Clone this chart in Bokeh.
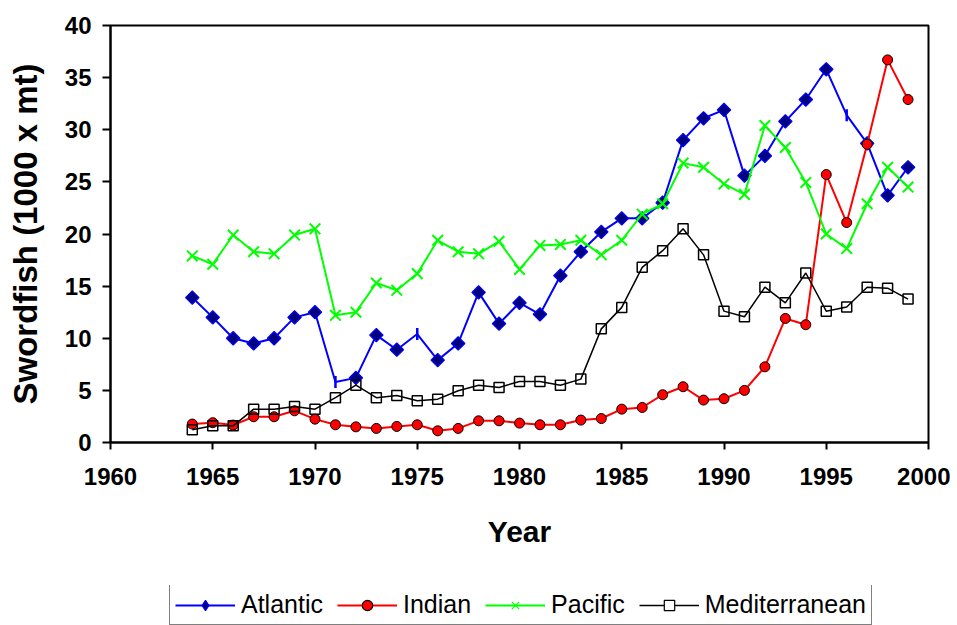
import math
from bokeh.plotting import figure
from bokeh.layouts import column
from bokeh.models import Legend, LegendItem, FixedTicker, Range1d
from bokeh.embed import file_html
from bokeh.resources import INLINE

# ---- data ----
years = list(range(1964, 2000))
atlantic = [13.9, 12.0, 10.0, 9.5, 10.0, 12.0, 12.5, 5.8, 6.2, 10.3, 8.9, 10.4,
            7.9, 9.5, 14.4, 11.4, 13.4, 12.3, 16.0, 18.3, 20.2, 21.5, 21.5, 23.0,
            29.0, 31.1, 31.9, 25.6, 27.5, 30.8, 32.9, 35.8, 31.4, 28.7, 23.7, 26.4]
indian = [1.77, 1.9, 1.67, 2.47, 2.47, 3.04, 2.24, 1.7, 1.5, 1.35, 1.54, 1.7,
          1.12, 1.35, 2.08, 2.08, 1.86, 1.7, 1.7, 2.15, 2.3, 3.2, 3.36, 4.58,
          5.35, 4.07, 4.2, 5.0, 7.26, 11.9, 11.3, 25.7, 21.1, 28.6, 36.7, 32.9]
pacific = [17.9, 17.1, 19.9, 18.3, 18.1, 19.9, 20.5, 12.2, 12.5, 15.3, 14.6, 16.2,
           19.4, 18.3, 18.1, 19.3, 16.6, 18.9, 19.0, 19.4, 18.0, 19.4, 21.9, 22.9,
           26.8, 26.4, 24.8, 23.8, 30.4, 28.3, 24.95, 20.0, 18.6, 22.9, 26.4, 24.5]
mediterranean = [1.22, 1.6, 1.6, 3.2, 3.2, 3.45, 3.2, 4.3, 5.5, 4.3, 4.5, 4.0,
                 4.16, 4.96, 5.5, 5.28, 5.86, 5.86, 5.5, 6.08, 10.9, 12.96, 16.8, 18.4,
                 20.5, 18.0, 12.6, 12.06, 14.9, 13.4, 16.26, 12.6, 13.0, 14.9, 14.8, 13.76]
series_names = ["Atlantic", "Indian", "Pacific", "Mediterranean"]
x_ticks = [1960, 1965, 1970, 1975, 1980, 1985, 1990, 1995, 2000]
y_ticks = [0, 5, 10, 15, 20, 25, 30, 35, 40]
# Atlantic points drawn with a short vertical tick instead of a diamond in the original
atlantic_tick_years = [1971, 1975, 1996]

FONT = "Liberation Sans"

p = figure(width=950, height=585, output_backend="svg", toolbar_location=None,
           x_range=Range1d(1960, 2000), y_range=Range1d(0, 40),
           min_border_left=110, min_border_right=22, min_border_top=25,
           min_border_bottom=143)
p.grid.visible = False
p.outline_line_color = "black"
p.outline_line_width = 2
p.background_fill_color = "white"
p.border_fill_color = "white"

for ax, ticks in ((p.xaxis, x_ticks), (p.yaxis, y_ticks)):
    ax.ticker = FixedTicker(ticks=ticks)
    ax.minor_tick_line_color = None
    ax.axis_line_color = "black"
    ax.axis_line_width = 2
    ax.major_tick_line_color = "black"
    ax.major_tick_line_width = 2
    ax.major_tick_in = 0
    ax.major_label_text_font = FONT
    ax.major_label_text_font_style = "bold"
    ax.major_label_text_font_size = "24px"
    ax.major_label_text_color = "black"
    ax.axis_label_text_font = FONT
    ax.axis_label_text_font_style = "bold"
    ax.axis_label_text_color = "black"

p.xaxis.major_tick_out = 7
p.xaxis.major_label_standoff = 18
p.xaxis.axis_label = "Year"
p.xaxis.axis_label_text_font_size = "30px"
p.xaxis.axis_label_standoff = 27

p.yaxis.major_tick_out = 8
p.yaxis.major_label_standoff = 11
p.yaxis.axis_label = "Swordfish (1000 x mt)"
p.yaxis.axis_label_text_font_size = "33px"
p.yaxis.axis_label_standoff = 18

# Atlantic
p.line(years, atlantic, line_color="#0000FF", line_width=2)
ax_d = [y for y in years if y not in atlantic_tick_years]
ay_d = [v for y, v in zip(years, atlantic) if y not in atlantic_tick_years]
ax_t = [y for y in years if y in atlantic_tick_years]
ay_t = [v for y, v in zip(years, atlantic) if y in atlantic_tick_years]
p.scatter(ax_d, ay_d, marker="square", angle=math.pi / 4, size=9.5,
          fill_color="#000080", line_color="#0000FF", line_width=1.2)
p.scatter(ax_t, ay_t, marker="dash", angle=math.pi / 2, size=12,
          line_color="#0000FF", line_width=2.5)

# Indian
p.line(years, indian, line_color="#FF0000", line_width=2)
p.scatter(years, indian, marker="circle", size=10,
          fill_color="#FF0000", line_color="black", line_width=1)

# Pacific
p.line(years, pacific, line_color="#00FF00", line_width=2)
p.scatter(years, pacific, marker="x", size=15, line_color="#00FF00", line_width=2)

# Mediterranean
p.line(years, mediterranean, line_color="black", line_width=1.5)
p.scatter(years, mediterranean, marker="square", size=10,
          fill_alpha=0, line_color="black", line_width=1.5)

# ---- legend strip below the chart (same series, outside its view range) ----
q = figure(width=950, height=40, output_backend="svg", toolbar_location=None,
           x_range=Range1d(0, 1), y_range=Range1d(0, 1),
           x_axis_location=None, y_axis_location=None, min_border=0)
q.grid.visible = False
q.outline_line_color = None
q.background_fill_color = "white"
q.border_fill_color = "white"

styles = [
    dict(color="#0000FF", marker="diamond", fill="#000080", edge="#0000FF", lw=2),
    dict(color="#FF0000", marker="circle", fill="#FF0000", edge="black", lw=2),
    dict(color="#00FF00", marker="x", fill=None, edge="#00FF00", lw=2),
    dict(color="black", marker="square", fill="white", edge="black", lw=1.5),
]
items = []
for name, vals, st in zip(series_names, [atlantic, indian, pacific, mediterranean], styles):
    ln = q.line(years, vals, line_color=st["color"], line_width=st["lw"])
    mk = q.scatter(years, vals, marker=st["marker"], size=10,
                   fill_color=st["fill"], line_color=st["edge"], line_width=1.2)
    items.append(LegendItem(label=name, renderers=[ln, mk]))

legend = Legend(items=items, orientation="horizontal", location=(59, 0))
legend.label_text_font = FONT
legend.label_text_font_size = "25px"
legend.label_text_color = "black"
legend.glyph_width = 60
legend.glyph_height = 26
legend.label_standoff = 6
legend.spacing = 14
legend.padding = 5
legend.margin = 0
legend.border_line_color = "black"
legend.border_line_width = 1
legend.background_fill_color = "white"
legend.background_fill_alpha = 1
q.add_layout(legend)

layout = column(p, q, spacing=0)
open("out.html", "w").write(file_html(layout, INLINE))
